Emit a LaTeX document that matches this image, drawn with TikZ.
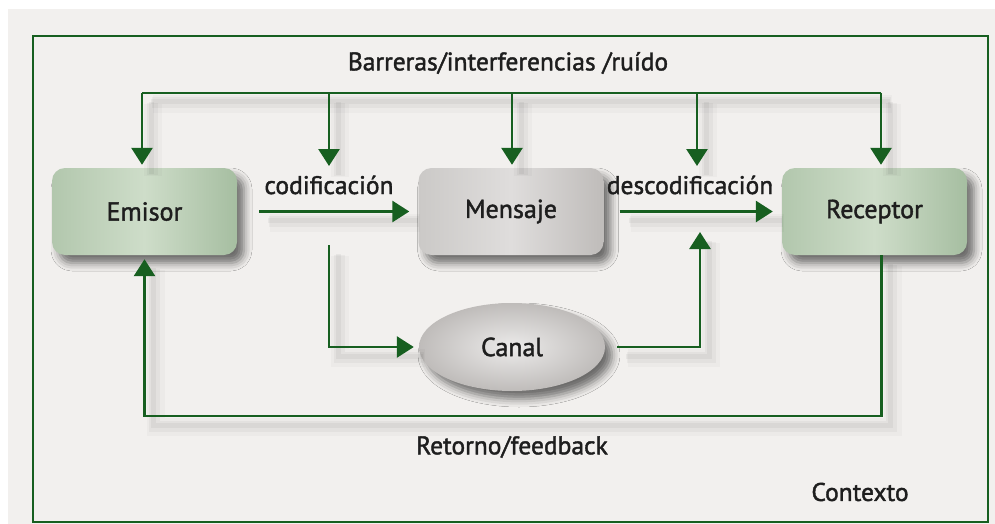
\documentclass[tikz,border=0pt]{standalone}
\usepackage{fontspec}
\setmainfont{PT Sans}[FakeBold=1.6]
\usetikzlibrary{arrows.meta,shadows.blur,shapes.geometric}

\definecolor{wireGreen}{HTML}{175F20}
\definecolor{paper}{HTML}{F2F0EE}
\definecolor{inkGrey}{HTML}{1E1E1E}
\definecolor{sageL}{HTML}{B2C7AD}
\definecolor{sageM}{HTML}{CEDDC9}
\definecolor{sageR}{HTML}{A6BEA1}
\definecolor{stoneL}{HTML}{CBC9C7}
\definecolor{stoneM}{HTML}{DFDDDC}
\definecolor{stoneR}{HTML}{BFBCBA}

\begin{document}
\begin{tikzpicture}[x=1pt,y=-1pt,text=inkGrey]

\tikzset{box/.style = {draw=none, rounded corners=13pt, minimum width=185pt,
  minimum height=87pt, font=\fontsize{26}{30}\selectfont,
  blur shadow={shadow xshift=7pt, shadow yshift=-8pt, shadow blur radius=8pt, shadow opacity=55}}}
\tikzset{greenbox/.style = {box, left color=sageL, right color=sageR, middle color=sageM}}
\tikzset{greybox/.style = {box, left color=stoneL, right color=stoneR, middle color=stoneM}}
\tikzset{label/.style = {font=\fontsize{25.5}{29}\selectfont}}
\tikzset{wire/.style = {wireGreen, line width=2.8pt,
  preaction={-, draw=black, opacity=0.025, line width=18pt, transform canvas={shift={(11pt,-11pt)}}},
  preaction={-, draw=black, opacity=0.035, line width=11pt, transform canvas={shift={(10pt,-10pt)}}},
  preaction={-, draw=black, opacity=0.045, line width=5pt, transform canvas={shift={(9pt,-9pt)}}}}}
\tikzset{flow/.style = {wire, -{Triangle[width=21pt,length=17pt]}}}

% page and context frame
\useasboundingbox (0,0) rectangle (995,524);
\fill[white] (0,0) rectangle (995,524);
\fill[paper] (8,9) rectangle (995,524);
\draw[wireGreen, line width=2.4pt] (33,36) rectangle (988,522);

% nodes
\node[greenbox] (emisor) at (144.5,211.5) {Emisor};
\node[greybox] (mensaje) at (511,211.5) {Mensaje};
\node[greenbox] (receptor) at (874.5,211.5) {Receptor};
\node[greybox, ellipse, rounded corners=0pt, minimum width=186pt, minimum height=88pt,
  shading=radial, inner color=stoneM!60!white, outer color=stoneR]
  (canal) at (512,347) {Canal};

% labels
\node[label] (barreras) at (508,63) {Barreras/interferencias /ruído};
\node[label] (codif) at (329,185) {codificación};
\node[label] (descodif) at (690,185) {descodificación};
\node[label] (retorno) at (512,447) {Retorno/feedback};
\node[label] (contexto) at (860,492) {Contexto};

% noise bar
\coordinate (nL) at (142,93);
\coordinate (nR) at (881,93);
\coordinate (n2) at (329,93);
\coordinate (n3) at (512,93);
\coordinate (n4) at (697,93);
\coordinate (cod) at (329,245);
\coordinate (dec) at (700,232);
\coordinate (fb) at (512,416);

\draw[wire] (nL) -- (nR);
\draw[flow, shorten >=3pt] (nL) -- (nL |- emisor.north);
\draw[flow] (n2) -- ++(0,73);
\draw[flow, shorten >=3pt] (n3) -- (n3 |- mensaje.north);
\draw[flow] (n4) -- ++(0,73);
\draw[flow, shorten >=3pt] (nR) -- (nR |- receptor.north);

% message path
\draw[flow, shorten <=22pt, shorten >=9pt] (emisor) -- (mensaje);
\draw[flow, shorten <=16pt, shorten >=9pt] (mensaje) -- (receptor);
\draw[flow, shorten >=5pt] (cod) |- (canal.west);
\draw[flow, shorten <=12pt] (canal.east) -| (dec);

% feedback
\draw[flow, shorten >=4pt] ([xshift=7pt]receptor.south) |- (fb) -| (emisor.south);

\end{tikzpicture}
\end{document}
